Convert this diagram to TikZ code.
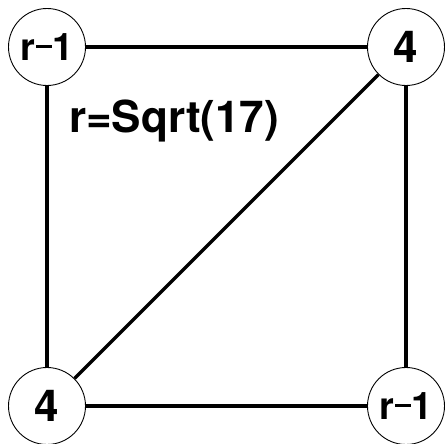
\documentclass[tikz,border=0pt]{standalone}
\usepackage{fontspec}
\setmainfont{TeX Gyre Heros}
\newcommand{\rmone}{r\kern1pt\rule[12.5pt]{16pt}{3.4pt}\kern0pt 1}
\begin{document}
\begin{tikzpicture}[x=1pt,y=-1pt,
  vert/.style={circle,draw,line width=0.9pt,minimum size=77pt,inner sep=0pt,font=\fontsize{44}{44}\selectfont\bfseries},
  small/.style={font=\fontsize{38}{38}\selectfont\bfseries},
  edge/.style={line width=3.4pt}]
\useasboundingbox (0,0) rectangle (444,444);
\node[vert,small] (a) at (47,47) {\rmone};
\node[vert] (b) at (406,47) {4};
\node[vert] (c) at (47,406) {4};
\node[vert,small] (d) at (406,406) {\rmone};
\node[font=\fontsize{44}{44}\selectfont\bfseries] (lab) at (174,121) {r=Sqrt(17)};
\draw[edge] (a) -- (b);
\draw[edge] (a) -- (c);
\draw[edge] (b) -- (d);
\draw[edge] (c) -- (d);
\draw[edge] (c) -- (b);
\end{tikzpicture}
\end{document}
